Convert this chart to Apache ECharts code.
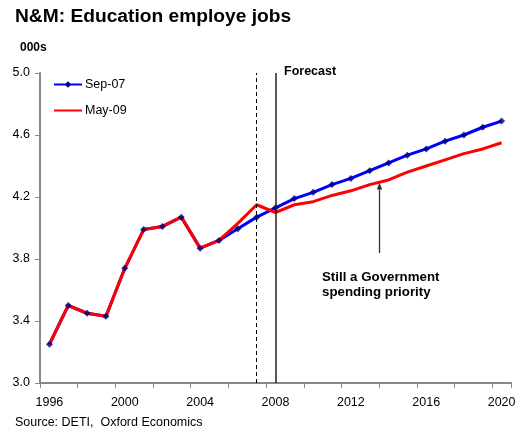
<!DOCTYPE html>
<html>
<head>
<meta charset="utf-8">
<script src="https://cdn.jsdelivr.net/npm/echarts@6/dist/echarts.min.js"></script>
<style>
  html, body { margin: 0; padding: 0; background: #fff; }
  #chart { width: 523px; height: 433px; }
</style>
</head>
<body>
<div id="chart"></div>
<script>
// Northern Ireland education employee jobs (thousands), two forecast vintages
const years = ['1996','1997','1998','1999','2000','2001','2002','2003','2004','2005','2006','2007','2008',
               '2009','2010','2011','2012','2013','2014','2015','2016','2017','2018','2019','2020'];
const sep07 = [3.25, 3.50, 3.45, 3.43, 3.74, 3.99, 4.01, 4.07, 3.87, 3.92, 3.995, 4.07, 4.13,
               4.19, 4.23, 4.28, 4.32, 4.37, 4.42, 4.47, 4.51, 4.56, 4.60, 4.65, 4.69];
const may09 = [3.25, 3.50, 3.45, 3.43, 3.74, 3.99, 4.01, 4.07, 3.87, 3.92, 4.03, 4.15, 4.10,
               4.15, 4.17, 4.21, 4.24, 4.28, 4.31, 4.36, 4.40, 4.44, 4.48, 4.51, 4.55];
const yTicks = { min: 3.0, max: 5.0, step: 0.4 };
const vintageYear = '2007';
const forecastStart = '2008';

const FONT = '"Liberation Sans", Arial, sans-serif';
const chart = echarts.init(document.getElementById('chart'), null, { renderer: 'canvas' });

chart.setOption({
  animation: false,
  backgroundColor: '#fff',
  textStyle: { fontFamily: FONT },
  title: {
    text: 'N&M: Education employe jobs',
    left: 15, top: 7, padding: 0,
    textStyle: { fontFamily: FONT, fontSize: 19.2, fontWeight: 'bold', color: '#000' }
  },
  legend: {
    data: [
      { name: 'Sep-07' },
      { name: 'May-09', itemStyle: { opacity: 0 } }
    ],
    orient: 'vertical',
    left: 53, top: 78, padding: 0,
    itemWidth: 28, itemHeight: 8, itemGap: 13,
    textStyle: { fontFamily: FONT, fontSize: 12.5, color: '#000', padding: [0, 0, 0, -2] }
  },
  grid: { left: 40, right: 12, top: 73, bottom: 50 },
  xAxis: {
    type: 'category',
    data: years,
    boundaryGap: true,
    axisLine: { lineStyle: { color: '#888', width: 2 } },
    axisTick: { show: true, interval: 1, length: 5, lineStyle: { color: '#888', width: 1 } },
    axisLabel: { interval: 3, margin: 13, fontFamily: FONT, fontSize: 12.5, color: '#000' },
    splitLine: { show: false }
  },
  yAxis: {
    type: 'value',
    min: yTicks.min, max: yTicks.max, interval: yTicks.step,
    axisLine: { show: true, lineStyle: { color: '#888', width: 2 } },
    axisTick: { show: true, length: 5, lineStyle: { color: '#888', width: 1 } },
    axisLabel: { margin: 10, fontFamily: FONT, fontSize: 12.5, color: '#000',
                 formatter: v => v.toFixed(1) },
    splitLine: { show: false }
  },
  series: [
    {
      name: 'Sep-07',
      type: 'line',
      data: sep07,
      z: 2,
      symbol: 'diamond', symbolSize: 7, showSymbol: false,
      lineStyle: { color: '#0000ff', width: 3 },
      itemStyle: { color: '#000080' },
      markLine: {
        silent: true, symbol: 'none', label: { show: false },
        data: [
          { xAxis: vintageYear, lineStyle: { color: '#000', width: 1, type: [4, 3] } },
          { xAxis: forecastStart, lineStyle: { color: '#222', width: 1.5, type: 'solid' } }
        ]
      }
    },
    {
      name: 'May-09',
      type: 'line',
      data: may09,
      z: 3,
      symbol: 'none',
      lineStyle: { color: '#ff0000', width: 3 },
      itemStyle: { color: '#ff0000' }
    },
    {
      // Sep-07 point markers drawn above both lines
      name: 'Sep-07 points',
      type: 'scatter',
      data: sep07,
      z: 4,
      symbol: 'diamond', symbolSize: 7,
      itemStyle: { color: '#000080' }
    }
  ],
  graphic: [
    { type: 'text', left: 20, top: 42,
      style: { text: '000s', font: 'bold 12px ' + FONT, fill: '#000' } },
    { type: 'text', left: 284, top: 65,
      style: { text: 'Forecast', font: 'bold 12.5px ' + FONT, fill: '#000' } },
    { type: 'line', shape: { x1: 379.5, y1: 253, x2: 379.5, y2: 188 },
      style: { stroke: '#333', lineWidth: 1.3 } },
    { type: 'polygon', shape: { points: [[379.5, 182.5], [376.8, 189.5], [382.2, 189.5]] },
      style: { fill: '#333' } },
    { type: 'text', left: 322, top: 269.5,
      style: { text: 'Still a Government\nspending priority', font: 'bold 13.3px ' + FONT,
               fill: '#000', lineHeight: 15.4 } },
    { type: 'text', left: 15, top: 416,
      style: { text: 'Source: DETI,  Oxford Economics', font: '12.5px ' + FONT, fill: '#000' } }
  ]
});
</script>
</body>
</html>
